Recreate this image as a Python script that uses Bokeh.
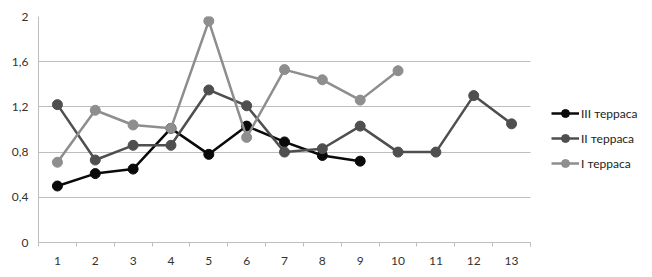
from bokeh.plotting import figure
from bokeh.models import Legend, LegendItem, FixedTicker, Range1d
from bokeh.embed import file_html
from bokeh.resources import INLINE

categories = list(range(1, 14))
series_names = ["III терраса", "II терраса", "I терраса"]
x3 = [1, 2, 3, 4, 5, 6, 7, 8, 9]
y3 = [0.50, 0.61, 0.65, 1.01, 0.78, 1.03, 0.89, 0.77, 0.72]
x2 = [1, 2, 3, 4, 5, 6, 7, 8, 9, 10, 11, 12, 13]
y2 = [1.22, 0.73, 0.86, 0.86, 1.35, 1.21, 0.80, 0.83, 1.03, 0.80, 0.80, 1.30, 1.05]
x1 = [1, 2, 3, 4, 5, 6, 7, 8, 9, 10]
y1 = [0.71, 1.17, 1.04, 1.01, 1.96, 0.93, 1.53, 1.44, 1.26, 1.52]
y_ticks = [0, 0.4, 0.8, 1.2, 1.6, 2.0]
y_tick_labels = ["0", "0,4", "0,8", "1,2", "1,6", "2"]
colors = ["#0a0a0a", "#4f4f4f", "#8e8e8e"]

FONT = "Lato"

W, H = 652, 277
LEFT, TOP, BOTTOM = 38, 16, 35
frame_w = W - LEFT
px_per_cat = 492 / len(categories)
x_lo = categories[0] - 0.5
x_hi_cat = categories[-1] + 0.5
x_end = x_lo + frame_w / px_per_cat

p = figure(width=W, height=H, output_backend="svg", toolbar_location=None,
           x_range=Range1d(x_lo, x_end), y_range=Range1d(0, 2.0),
           min_border_left=LEFT, min_border_top=TOP, min_border_right=0, min_border_bottom=BOTTOM)
p.outline_line_color = None
p.background_fill_color = "white"
p.border_fill_color = "white"

# grid
p.xgrid.grid_line_color = None
p.ygrid.ticker = FixedTicker(ticks=y_ticks)
p.ygrid.grid_line_color = "#bdbdbd"
p.ygrid.grid_line_width = 1
p.ygrid.cross_bounds = (x_lo, x_hi_cat)

# y axis
p.yaxis.ticker = FixedTicker(ticks=y_ticks)
p.yaxis.major_label_overrides = {t: l for t, l in zip(y_ticks, y_tick_labels)}
p.yaxis.axis_line_color = "#bdbdbd"
p.yaxis.major_tick_line_color = None
p.yaxis.major_tick_out = 0
p.yaxis.major_tick_in = 0
p.yaxis.minor_tick_line_color = None
p.yaxis.minor_tick_out = 0
p.yaxis.major_label_text_font = FONT
p.yaxis.major_label_text_font_size = "12px"
p.yaxis.major_label_text_color = "#333333"
p.yaxis.major_label_standoff = 10

# x axis: labels at categories, tick marks at category boundaries (minor ticks)
bx = [c - 0.5 for c in categories] + [categories[-1] + 0.5]
p.xaxis.ticker = FixedTicker(ticks=categories, minor_ticks=bx)
p.xaxis.bounds = (x_lo, x_hi_cat)
p.xaxis.major_tick_line_color = None
p.xaxis.major_tick_out = 0
p.xaxis.major_tick_in = 0
p.xaxis.minor_tick_line_color = "#bdbdbd"
p.xaxis.minor_tick_in = 0
p.xaxis.minor_tick_out = 4
p.xaxis.axis_line_color = "#bdbdbd"
p.xaxis.major_label_text_font = FONT
p.xaxis.major_label_text_font_size = "12px"
p.xaxis.major_label_text_color = "#333333"
p.xaxis.major_label_standoff = 10

for xs, ys, c in [(x3, y3, colors[0]), (x2, y2, colors[1]), (x1, y1, colors[2])]:
    p.line(xs, ys, line_color=c, line_width=2.5)
    p.scatter(xs, ys, size=10, fill_color=c, line_color=c)

# legend glyph renderers with smaller markers (placed off-range, not visible)
leg_items = []
for name, c in zip(series_names, colors):
    lr = p.line([-10, -9], [-10, -10], line_color=c, line_width=2.5)
    sr = p.scatter([-10], [-10], size=7, fill_color=c, line_color=c)
    leg_items.append(LegendItem(label=name, renderers=[lr, sr]))

legend = Legend(items=leg_items, location=(513, 69), orientation="vertical")
legend.border_line_color = None
legend.background_fill_alpha = 0
legend.padding = 0
legend.margin = 0
legend.spacing = 5
legend.glyph_width = 28
legend.glyph_height = 20
legend.label_height = 20
legend.label_standoff = 2
legend.label_text_font = FONT
legend.label_text_font_size = "12px"
legend.label_text_color = "#222222"
p.add_layout(legend, "center")

open("out.html", "w").write(file_html(p, INLINE))
